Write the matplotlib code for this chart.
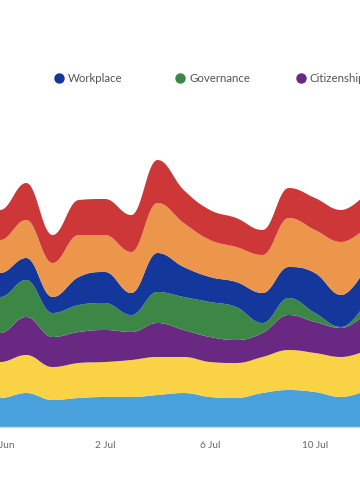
import numpy as np
import matplotlib
matplotlib.use("Agg")
import matplotlib.pyplot as plt
from matplotlib.lines import Line2D

# daily values, 27 Jun .. 12 Jul (stack order: bottom to top)
dates = ["27 Jun", "28 Jun", "29 Jun", "30 Jun", "1 Jul", "2 Jul", "3 Jul", "4 Jul",
         "5 Jul", "6 Jul", "7 Jul", "8 Jul", "9 Jul", "10 Jul", "11 Jul", "12 Jul"]
sky = [29, 29, 34, 27, 29, 30, 30, 32, 34, 30, 29, 34, 37, 35, 30, 37]
sun = [36, 36, 38, 33, 35, 35, 37, 38, 36, 35, 35, 36, 40, 39, 40, 40]
citizenship = [32, 29, 38, 30, 31, 32, 28, 34, 27, 25, 23, 24, 35, 31, 29, 38]
governance = [34, 36, 37, 24, 27, 27, 17, 31, 33, 35, 33, 10, 17, 9, 1, 12]
workplace = [24, 24, 22, 16, 28, 31, 22, 39, 30, 25, 25, 30, 31, 40, 32, 35]
amber = [34, 33, 38, 34, 42, 37, 41, 50, 44, 37, 35, 38, 49, 43, 53, 39]
crimson = [33, 30, 37, 28, 35, 36, 37, 43, 33, 30, 29, 25, 30, 32, 32, 34]

series = [sky, sun, citizenship, governance, workplace, amber, crimson]
colors = ["#48a0dc", "#fad246", "#692882", "#3c8746", "#14379b", "#eb964b", "#cd3737"]

tick_labels = ["28 Jun", "2 Jul", "6 Jul", "10 Jul"]
legend_names = ["Workplace", "Governance", "Citizenship"]
legend_colors = ["#14379b", "#3c8746", "#692882"]


def spline_controls(_x, _y):
    # control points the way a highcharts spline builds them
    n = len(_x)
    lc = [(_x[i], _y[i]) for i in range(n)]
    rc = [(_x[i], _y[i]) for i in range(n)]
    sm = 1.5
    den = sm + 1
    for i in range(1, n - 1):
        px, py = _x[i], _y[i]
        lx, ly = _x[i - 1], _y[i - 1]
        nx, ny = _x[i + 1], _y[i + 1]
        lcx = (sm * px + lx) / den
        lcy = (sm * py + ly) / den
        rcx = (sm * px + nx) / den
        rcy = (sm * py + ny) / den
        corr = (rcy - lcy) * (rcx - px) / (rcx - lcx) + py - rcy
        lcy += corr
        rcy += corr
        if lcy > ly and lcy > py:
            lcy = max(ly, py)
            rcy = 2 * py - lcy
        elif lcy < ly and lcy < py:
            lcy = min(ly, py)
            rcy = 2 * py - lcy
        if rcy > ny and rcy > py:
            rcy = max(ny, py)
            lcy = 2 * py - rcy
        elif rcy < ny and rcy < py:
            rcy = min(ny, py)
            lcy = 2 * py - rcy
        lc[i] = (lcx, lcy)
        rc[i] = (rcx, rcy)
    return lc, rc


def spline_curve(_x, _y, _steps=60):
    _x = np.asarray(_x, float)
    _y = np.asarray(_y, float)
    lc, rc = spline_controls(_x, _y)
    t = np.linspace(0, 1, _steps)[:, None]
    pts = []
    for i in range(len(_x) - 1):
        p0 = np.array([_x[i], _y[i]])
        p1 = np.array(rc[i])
        p2 = np.array(lc[i + 1])
        p3 = np.array([_x[i + 1], _y[i + 1]])
        seg = (1 - t)**3 * p0 + 3 * (1 - t)**2 * t * p1 + 3 * (1 - t) * t**2 * p2 + t**3 * p3
        pts.append(seg if i == 0 else seg[1:])
    pts = np.vstack(pts)
    return pts[:, 0], pts[:, 1]


x = np.arange(len(dates))
tops = np.cumsum(np.array(series, float), axis=0)

fig = plt.figure(figsize=(3.6, 5.0), dpi=100)
ax = fig.add_axes([0, 0.146, 1, 0.654])

lower = None
for top, c in zip(tops, colors):
    xs, upper = spline_curve(x, top)
    if lower is None:
        lower = np.zeros_like(upper)
    upper = np.maximum(upper, lower)
    ax.fill_between(xs, lower, upper, color=c, lw=0)
    lower = upper

ax.set_xlim(1, 1 + 360 / 26.25)
ax.set_ylim(0, 327)
for s in ["top", "left", "right"]:
    ax.spines[s].set_visible(False)
ax.spines["bottom"].set_color("#ccd6eb")
ax.spines["bottom"].set_linewidth(1)
ax.set_yticks([])
ax.set_xticks([dates.index(t) for t in tick_labels])
ax.set_xticklabels(tick_labels, fontsize=7.2, color="#666666", family="Lato")
ax.tick_params(axis="x", length=0, pad=10)

# legend row
for i, (name, c) in enumerate(zip(legend_names, legend_colors)):
    mx = 59 + 121 * i
    fig.add_artist(Line2D([mx / 360], [1 - 78 / 500], marker="o", markersize=6.5,
                          color=c, transform=fig.transFigure))
    fig.text((mx + 9) / 360, 1 - 78 / 500, name, fontsize=8.3, color="#555555",
             family="Lato", va="center", ha="left")

fig.savefig("out.png", dpi=100)
